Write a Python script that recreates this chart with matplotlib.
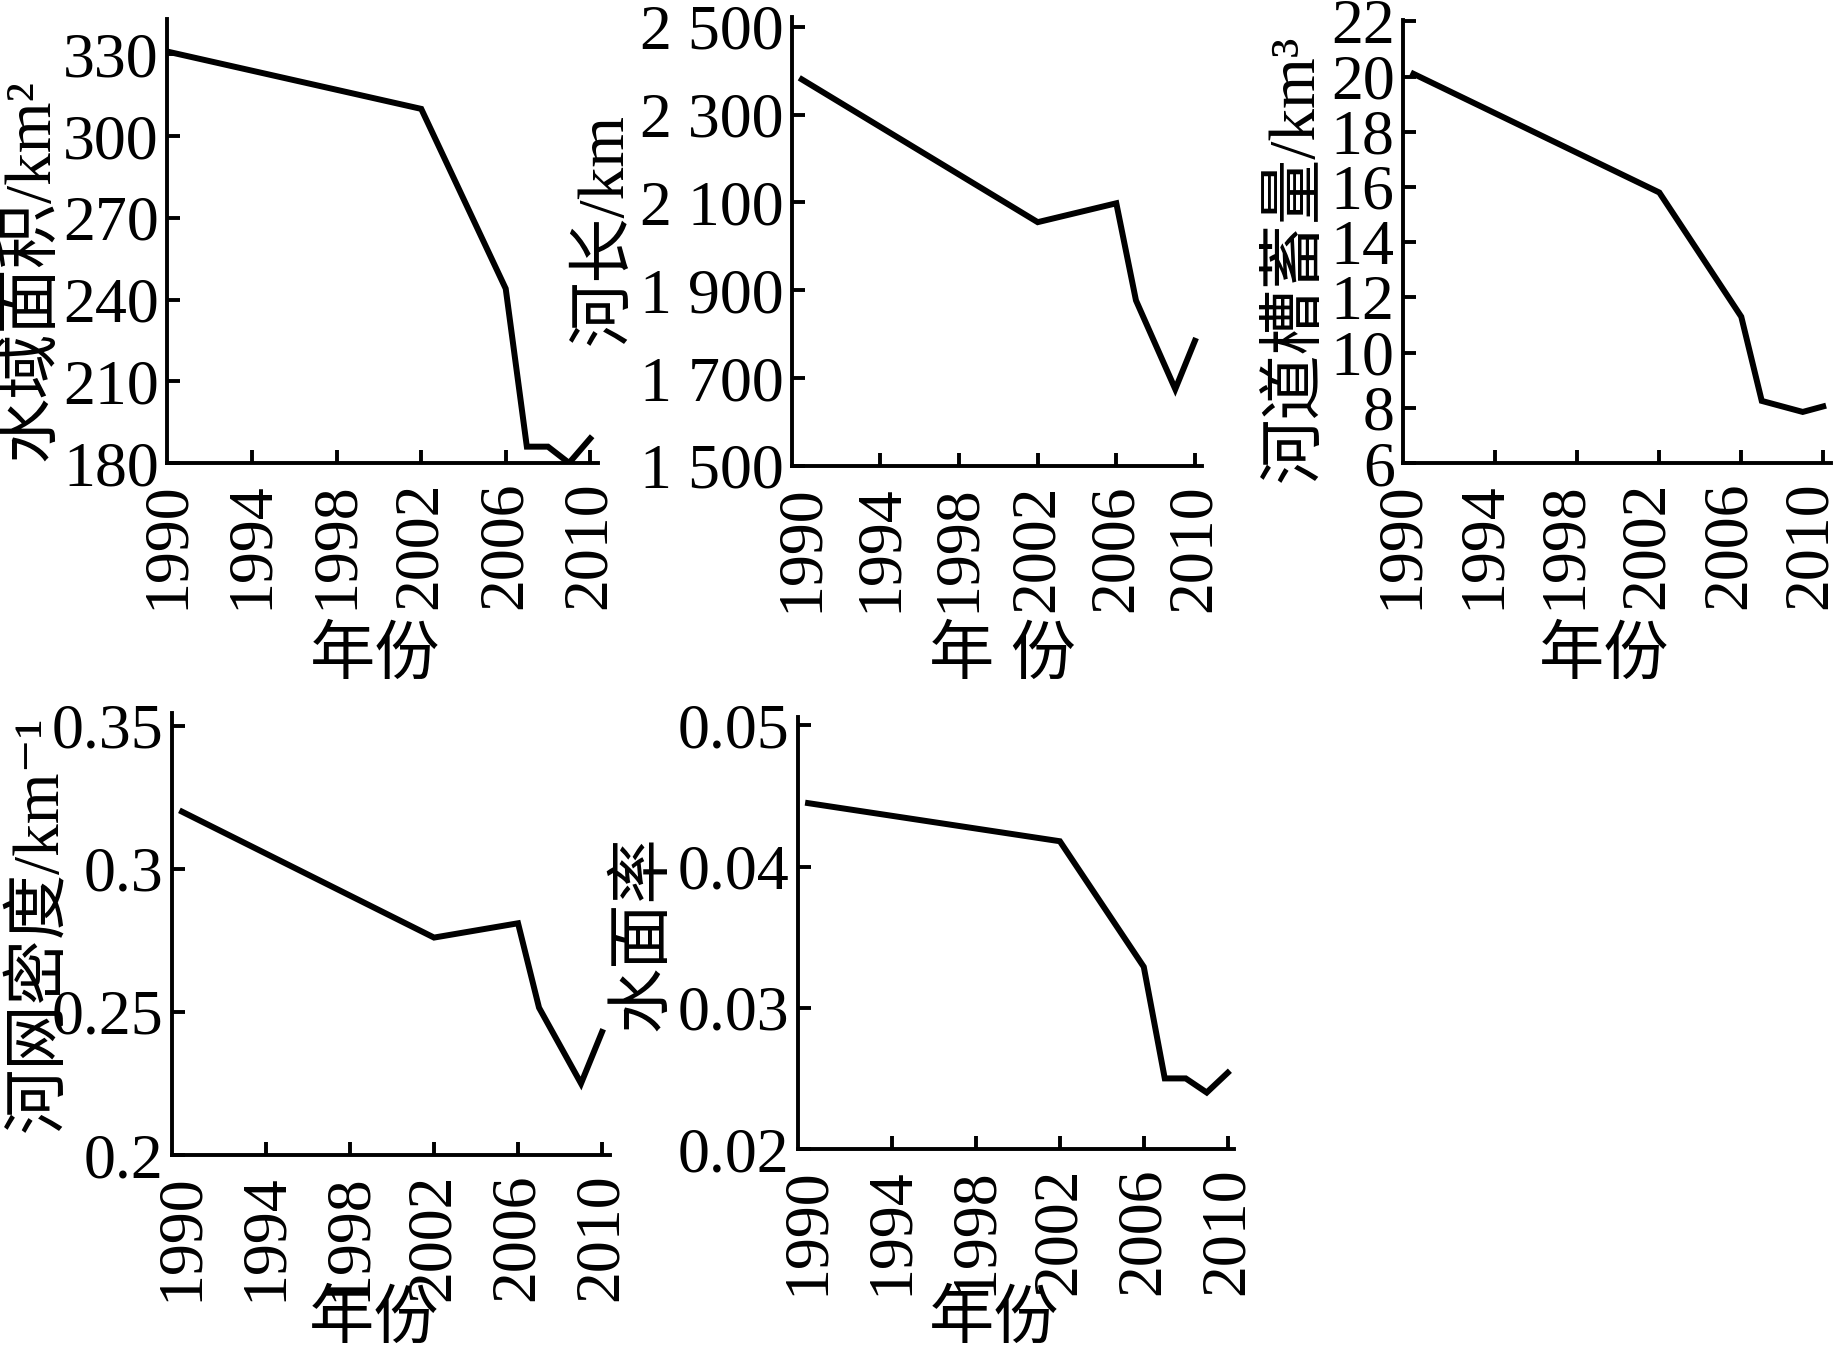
import matplotlib
matplotlib.use("Agg")
import matplotlib.pyplot as plt
from matplotlib.transforms import ScaledTranslation

plt.rcParams["font.family"] = ["Liberation Serif", "Noto Sans CJK SC", "DejaVu Serif"]

W, H = 1843, 1358

# values
years_area = [1990, 2002, 2006, 2007, 2008, 2009, 2010]
water_area = [331, 310, 244, 186, 186, 180, 189]

years_len = [1990, 2002, 2006, 2007, 2009, 2010]
river_len = [2380, 2055, 2098, 1877, 1675, 1785]

years_vol = [1990, 2002, 2006, 2007, 2009, 2010]
channel_vol = [20.1, 15.8, 11.3, 8.25, 7.85, 8.05]

years_dens = [1990, 2002, 2006, 2007, 2009, 2010]
net_density = [0.32, 0.276, 0.281, 0.2515, 0.225, 0.243]

years_ratio = [1990, 2002, 2006, 2007, 2008, 2009, 2010]
water_ratio = [0.0445, 0.0418, 0.0329, 0.025, 0.025, 0.024, 0.0254]

year_ticks = [1990, 1994, 1998, 2002, 2006, 2010]

panels = [
    dict(box=(167, 19, 598, 463), x=years_area, y=water_area,
         xlim=(1989.96, 2010.37), ylim=(180, 343),
         yticks=[180, 210, 240, 270, 300, 330],
         yticklabels=["180", "210", "240", "270", "300", "330"],
         ylabel="水域面积/km²", ylabel_at=(33, 270),
         xlabel="年份", xlabel_at=(375, 658), xshift=0),
    dict(box=(792, 17, 1202, 466), x=years_len, y=river_len,
         xlim=(1989.5, 2010.36), ylim=(1500, 2522),
         yticks=[1500, 1700, 1900, 2100, 2300, 2500],
         yticklabels=["1 500", "1 700", "1 900", "2 100", "2 300", "2 500"],
         ylabel="河长/km", ylabel_at=(606, 229),
         xlabel="年 份", xlabel_at=(1002, 658), xshift=0),
    dict(box=(1403, 20, 1831, 463), x=years_vol, y=channel_vol,
         xlim=(1989.49, 2010.38), ylim=(6, 22.05),
         yticks=[6, 8, 10, 12, 14, 16, 18, 20, 22],
         yticklabels=["6", "8", "10", "12", "14", "16", "18", "20", "22"],
         ylabel="河道槽蓄量/km³", ylabel_at=(1297, 258),
         xlabel="年份", xlabel_at=(1604, 658), xshift=-12),
    dict(box=(172, 713, 610, 1155), x=years_dens, y=net_density,
         xlim=(1989.52, 2010.38), ylim=(0.2, 0.3545),
         yticks=[0.2, 0.25, 0.3, 0.35],
         yticklabels=["0.2", "0.25", "0.3", "0.35"],
         ylabel="河网密度/km⁻¹", ylabel_at=(40, 924),
         xlabel="年份", xlabel_at=(374, 1322), xshift=0),
    dict(box=(798, 717, 1234, 1149), x=years_ratio, y=water_ratio,
         xlim=(1989.52, 2010.3), ylim=(0.02, 0.0506),
         yticks=[0.02, 0.03, 0.04, 0.05],
         yticklabels=["0.02", "0.03", "0.04", "0.05"],
         ylabel="水面率", ylabel_at=(644, 933),
         xlabel="年份", xlabel_at=(994, 1322), xshift=0),
]

fig = plt.figure(figsize=(W / 100, H / 100), dpi=100)

for p in panels:
    left, top, right, bottom = p["box"]
    ax = fig.add_axes([left / W, 1 - bottom / H, (right - left) / W, (bottom - top) / H])
    ax.plot(p["x"], p["y"], color="black", linewidth=4.3, solid_joinstyle="miter")

    ax.set_xlim(*p["xlim"])
    ax.set_ylim(*p["ylim"])
    ax.set_xticks(year_ticks)
    ax.set_xticklabels([str(y) for y in year_ticks], rotation=90)
    ax.set_yticks(p["yticks"])
    ax.set_yticklabels(p["yticklabels"])

    for side in ("top", "right"):
        ax.spines[side].set_visible(False)
    for side in ("left", "bottom"):
        ax.spines[side].set_linewidth(2.8)

    ax.tick_params(axis="both", direction="in", length=9.5, width=2.8,
                   labelsize=46, colors="black")
    ax.tick_params(axis="x", pad=13)
    ax.tick_params(axis="y", pad=6)
    ax.xaxis.get_major_ticks()[0].tick1line.set_visible(False)

    if p["xshift"]:
        offset = ScaledTranslation(p["xshift"] / 100, 0, fig.dpi_scale_trans)
        for lab in ax.get_xticklabels():
            lab.set_transform(lab.get_transform() + offset)

    fig.text(p["ylabel_at"][0] / W, 1 - p["ylabel_at"][1] / H, p["ylabel"],
             rotation=90, ha="center", va="center", fontsize=47)
    fig.text(p["xlabel_at"][0] / W, 1 - p["xlabel_at"][1] / H, p["xlabel"],
             ha="center", va="center", fontsize=47)

fig.savefig("out.png", dpi=100, facecolor="white")
